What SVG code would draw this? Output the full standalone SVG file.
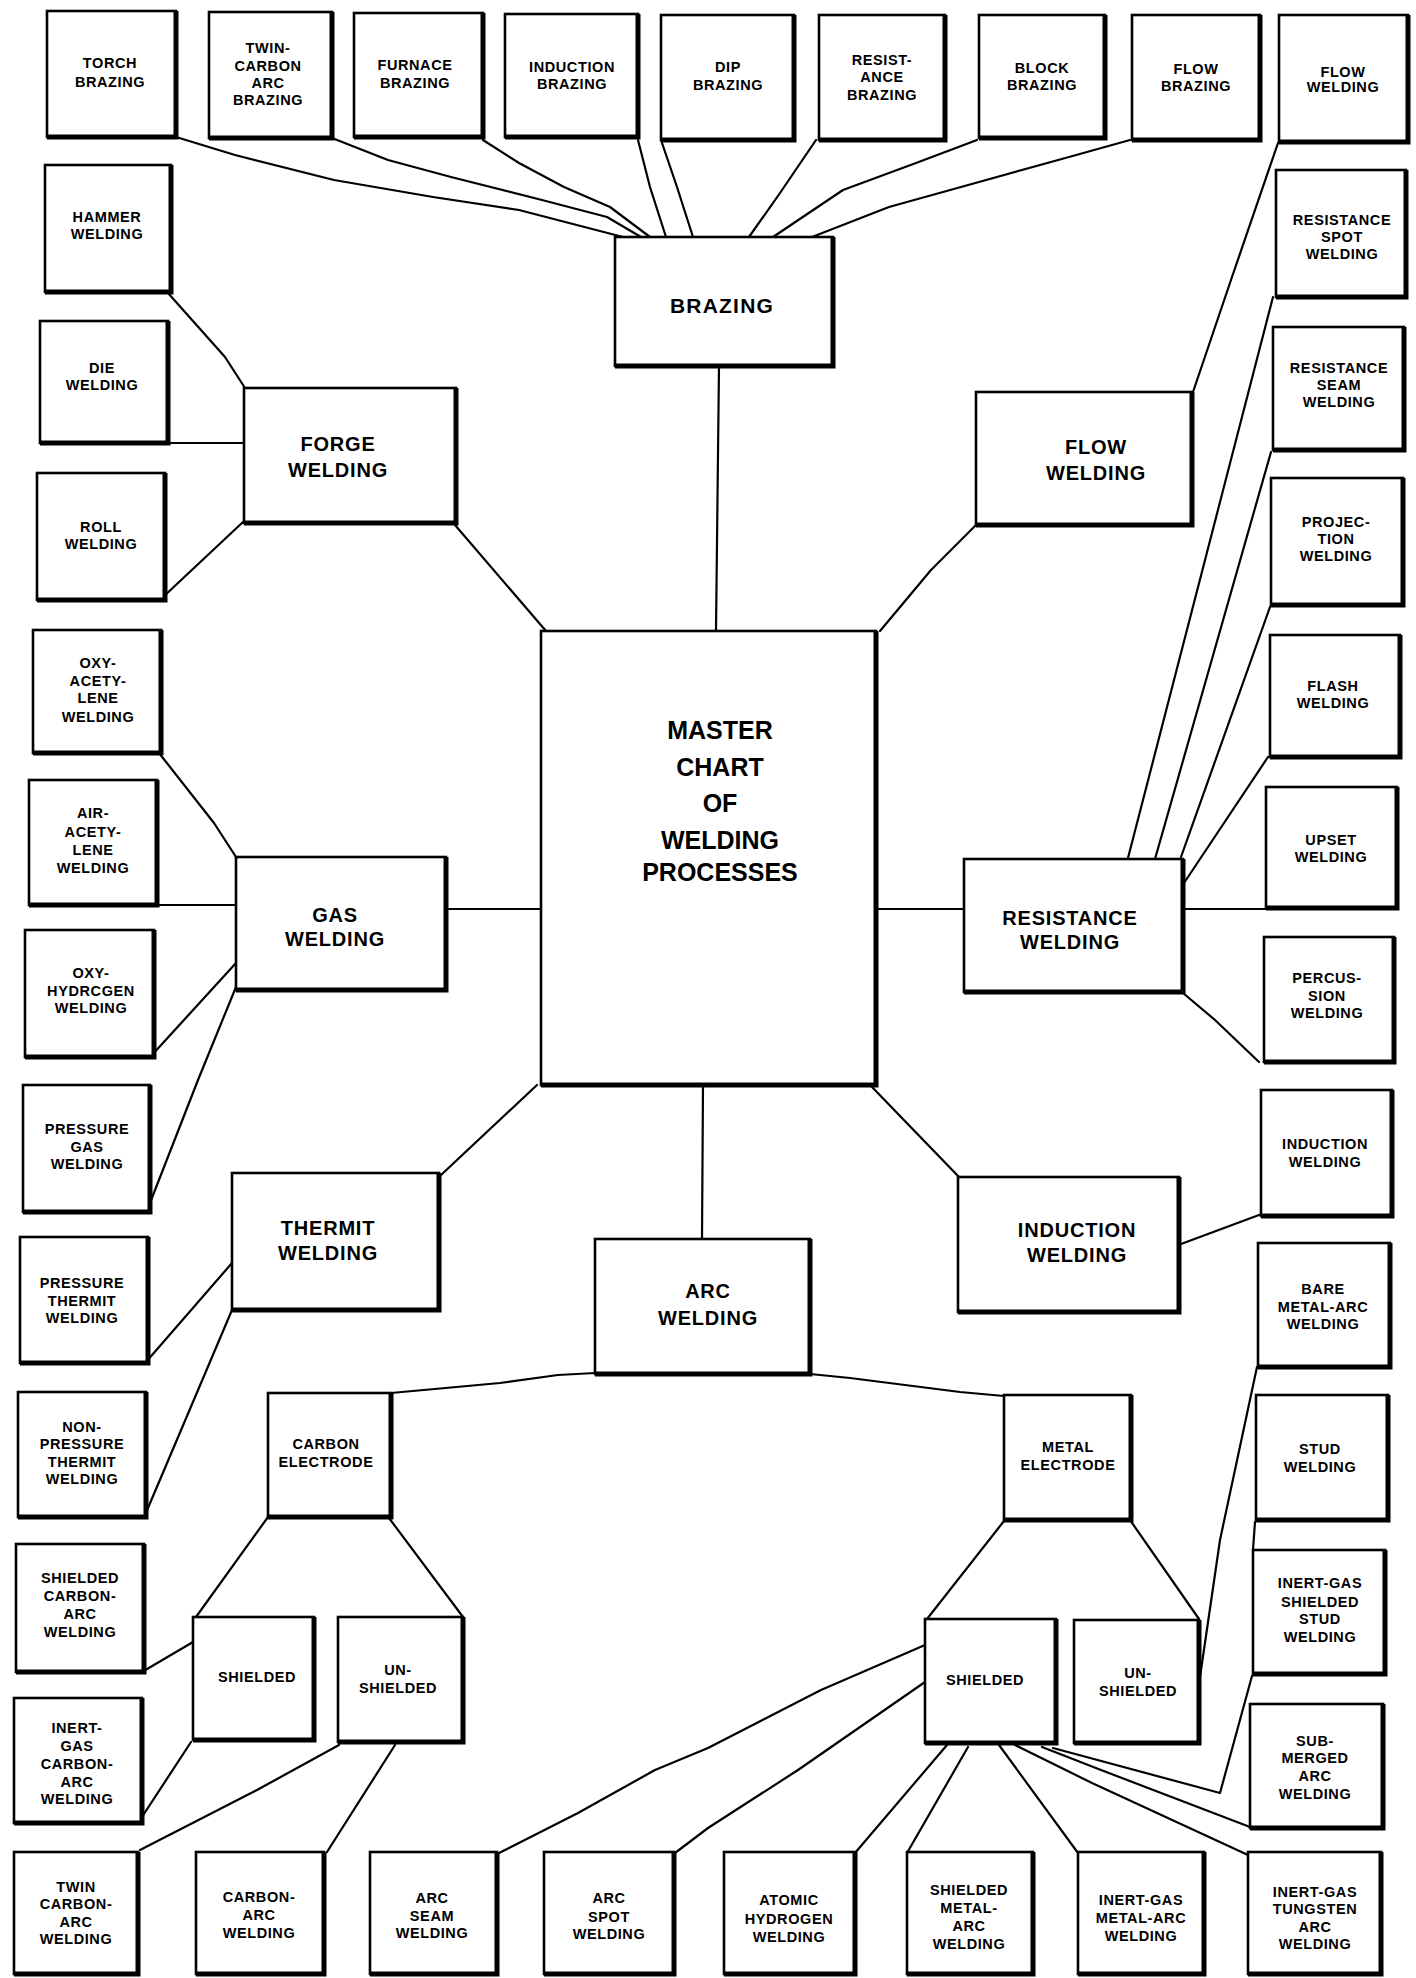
<svg xmlns="http://www.w3.org/2000/svg" width="1416" height="1978" viewBox="0 0 1416 1978">
<style>
rect{fill:#fff;stroke:#000;stroke-width:2.6}
.sh{fill:none;stroke:#000;stroke-width:5;stroke-linejoin:miter}
.c polyline,.c line{fill:none;stroke:#000;stroke-width:2.2;stroke-linejoin:round;stroke-linecap:round}
text{font-family:"Liberation Sans",Arial,sans-serif;font-weight:bold;text-anchor:middle;fill:#000}
.t{font-size:14.5px;letter-spacing:0.6px}
.tm{font-size:20px;letter-spacing:0.8px}
.tz{font-size:21px;letter-spacing:1.2px}
.tb{font-size:25px;font-weight:bold}
</style>
<rect x="0" y="0" width="1416" height="1978" style="stroke:none"/>
<g class="c" id="connectors">
<polyline points="176,137 235,155 334,180 433,197 519,210 623,237"/>
<polyline points="332,138 388,160 451,177 542,200 607,217 641,237"/>
<polyline points="483,140 519,163 564,187 610,207 650,237"/>
<polyline points="638,140 650,187 666,237"/>
<polyline points="661,140 677,187 693,237"/>
<polyline points="816,140 780,193 749,237"/>
<polyline points="977,140 916,163 843,190 773,237"/>
<polyline points="1130,140 1069,157 961,187 889,207 812,237"/>
<polyline points="719,366 716,631"/>
<polyline points="1278,143 1232,277 1193,392"/>
<polyline points="976,525 931,570 880,631"/>
<polyline points="168,293 225,357 245,388"/>
<polyline points="166,443 244,443"/>
<polyline points="162,598 243,522"/>
<polyline points="455,525 546,631"/>
<polyline points="159,753 214,823 236,857"/>
<polyline points="157,905 236,905"/>
<polyline points="152,1055 236,963"/>
<polyline points="148,1208 198,1080 236,987"/>
<polyline points="446,909 541,909"/>
<polyline points="876,909 964,909"/>
<polyline points="1273,297 1128,858"/>
<polyline points="1271,452 1155,859"/>
<polyline points="1270,607 1181,857"/>
<polyline points="1268,757 1184,883"/>
<polyline points="1184,909 1266,909"/>
<polyline points="1183,993 1215,1020 1259,1062"/>
<polyline points="872,1087 959,1177"/>
<polyline points="1181,1244 1259,1215"/>
<polyline points="537,1085 441,1175"/>
<polyline points="146,1362 232,1263"/>
<polyline points="145,1515 232,1310"/>
<polyline points="703,1085 702,1239"/>
<polyline points="595,1373 558,1375 500,1383 391,1393"/>
<polyline points="810,1374 850,1378 960,1392 1004,1396"/>
<polyline points="268,1517 196,1617"/>
<polyline points="389,1518 463,1617"/>
<polyline points="142,1672 193,1642"/>
<polyline points="140,1820 191,1742"/>
<polyline points="140,1850 257,1790 339,1745"/>
<polyline points="327,1852 395,1745"/>
<polyline points="499,1853 578,1813 655,1770 708,1748 821,1690 925,1645"/>
<polyline points="675,1853 708,1828 798,1770 925,1682"/>
<polyline points="1004,1521 927,1619"/>
<polyline points="1130,1520 1199,1619"/>
<polyline points="1257,1367 1220,1540 1200,1677"/>
<polyline points="1255,1522 1253,1550"/>
<polyline points="1252,1676 1220,1793 1053,1748"/>
<polyline points="1042,1747 1101,1770 1250,1827"/>
<polyline points="1015,1745 1092,1783 1248,1855"/>
<polyline points="999,1745 1078,1853"/>
<polyline points="968,1747 907,1853"/>
<polyline points="947,1745 855,1853"/>
</g>
<g id="n-torch"><rect x="47" y="11" width="129" height="126"/><path class="sh" d="M176,11V137H47"/><text class="t"><tspan x="110" y="68">TORCH</tspan><tspan x="110" y="87">BRAZING</tspan></text></g>
<g id="n-twin-carbon-arc-brazing"><rect x="209" y="12" width="123" height="126"/><path class="sh" d="M332,12V138H209"/><text class="t"><tspan x="268" y="53">TWIN-</tspan><tspan x="268" y="71">CARBON</tspan><tspan x="268" y="88">ARC</tspan><tspan x="268" y="105">BRAZING</tspan></text></g>
<g id="n-furnace"><rect x="354" y="13" width="129" height="124"/><path class="sh" d="M483,13V137H354"/><text class="t"><tspan x="415" y="70">FURNACE</tspan><tspan x="415" y="88">BRAZING</tspan></text></g>
<g id="n-induction-brazing"><rect x="505" y="14" width="133" height="123"/><path class="sh" d="M638,14V137H505"/><text class="t"><tspan x="572" y="72">INDUCTION</tspan><tspan x="572" y="89">BRAZING</tspan></text></g>
<g id="n-dip"><rect x="661" y="15" width="133" height="125"/><path class="sh" d="M794,15V140H661"/><text class="t"><tspan x="728" y="72">DIP</tspan><tspan x="728" y="90">BRAZING</tspan></text></g>
<g id="n-resistance-brazing"><rect x="819" y="15" width="126" height="125"/><path class="sh" d="M945,15V140H819"/><text class="t"><tspan x="882" y="65">RESIST-</tspan><tspan x="882" y="82">ANCE</tspan><tspan x="882" y="100">BRAZING</tspan></text></g>
<g id="n-block"><rect x="979" y="15" width="126" height="123"/><path class="sh" d="M1105,15V138H979"/><text class="t"><tspan x="1042" y="73">BLOCK</tspan><tspan x="1042" y="90">BRAZING</tspan></text></g>
<g id="n-flow-brazing"><rect x="1132" y="15" width="128" height="125"/><path class="sh" d="M1260,15V140H1132"/><text class="t"><tspan x="1196" y="74">FLOW</tspan><tspan x="1196" y="91">BRAZING</tspan></text></g>
<g id="n-flow-welding-leaf"><rect x="1279" y="15" width="129" height="127"/><path class="sh" d="M1408,15V142H1279"/><text class="t"><tspan x="1343" y="77">FLOW</tspan><tspan x="1343" y="92">WELDING</tspan></text></g>
<g id="n-hammer"><rect x="45" y="165" width="126" height="127"/><path class="sh" d="M171,165V292H45"/><text class="t"><tspan x="107" y="222">HAMMER</tspan><tspan x="107" y="239">WELDING</tspan></text></g>
<g id="n-die"><rect x="40" y="321" width="128" height="122"/><path class="sh" d="M168,321V443H40"/><text class="t"><tspan x="102" y="373">DIE</tspan><tspan x="102" y="390">WELDING</tspan></text></g>
<g id="n-roll"><rect x="37" y="473" width="128" height="127"/><path class="sh" d="M165,473V600H37"/><text class="t"><tspan x="101" y="532">ROLL</tspan><tspan x="101" y="549">WELDING</tspan></text></g>
<g id="n-oxy-acetylene"><rect x="33" y="630" width="128" height="123"/><path class="sh" d="M161,630V753H33"/><text class="t"><tspan x="98" y="668">OXY-</tspan><tspan x="98" y="686">ACETY-</tspan><tspan x="98" y="703">LENE</tspan><tspan x="98" y="722">WELDING</tspan></text></g>
<g id="n-air-acetylene"><rect x="29" y="780" width="128" height="125"/><path class="sh" d="M157,780V905H29"/><text class="t"><tspan x="93" y="818">AIR-</tspan><tspan x="93" y="837">ACETY-</tspan><tspan x="93" y="855">LENE</tspan><tspan x="93" y="873">WELDING</tspan></text></g>
<g id="n-oxy-hydrogen"><rect x="25" y="930" width="129" height="127"/><path class="sh" d="M154,930V1057H25"/><text class="t"><tspan x="91" y="978">OXY-</tspan><tspan x="91" y="996">HYDRCGEN</tspan><tspan x="91" y="1013">WELDING</tspan></text></g>
<g id="n-pressure-gas"><rect x="23" y="1085" width="127" height="127"/><path class="sh" d="M150,1085V1212H23"/><text class="t"><tspan x="87" y="1134">PRESSURE</tspan><tspan x="87" y="1152">GAS</tspan><tspan x="87" y="1169">WELDING</tspan></text></g>
<g id="n-pressure-thermit"><rect x="20" y="1237" width="128" height="126"/><path class="sh" d="M148,1237V1363H20"/><text class="t"><tspan x="82" y="1288">PRESSURE</tspan><tspan x="82" y="1306">THERMIT</tspan><tspan x="82" y="1323">WELDING</tspan></text></g>
<g id="n-nonpressure-thermit"><rect x="18" y="1392" width="128" height="125"/><path class="sh" d="M146,1392V1517H18"/><text class="t"><tspan x="82" y="1432">NON-</tspan><tspan x="82" y="1449">PRESSURE</tspan><tspan x="82" y="1467">THERMIT</tspan><tspan x="82" y="1484">WELDING</tspan></text></g>
<g id="n-shielded-carbon-arc"><rect x="16" y="1544" width="128" height="128"/><path class="sh" d="M144,1544V1672H16"/><text class="t"><tspan x="80" y="1583">SHIELDED</tspan><tspan x="80" y="1601">CARBON-</tspan><tspan x="80" y="1619">ARC</tspan><tspan x="80" y="1637">WELDING</tspan></text></g>
<g id="n-inert-gas-carbon-arc"><rect x="14" y="1698" width="128" height="125"/><path class="sh" d="M142,1698V1823H14"/><text class="t"><tspan x="77" y="1733">INERT-</tspan><tspan x="77" y="1751">GAS</tspan><tspan x="77" y="1769">CARBON-</tspan><tspan x="77" y="1787">ARC</tspan><tspan x="77" y="1804">WELDING</tspan></text></g>
<g id="n-twin-carbon-arc"><rect x="14" y="1852" width="124" height="122"/><path class="sh" d="M138,1852V1974H14"/><text class="t"><tspan x="76" y="1892">TWIN</tspan><tspan x="76" y="1909">CARBON-</tspan><tspan x="76" y="1927">ARC</tspan><tspan x="76" y="1944">WELDING</tspan></text></g>
<g id="n-carbon-arc"><rect x="196" y="1852" width="128" height="122"/><path class="sh" d="M324,1852V1974H196"/><text class="t"><tspan x="259" y="1902">CARBON-</tspan><tspan x="259" y="1920">ARC</tspan><tspan x="259" y="1938">WELDING</tspan></text></g>
<g id="n-arc-seam"><rect x="370" y="1852" width="127" height="122"/><path class="sh" d="M497,1852V1974H370"/><text class="t"><tspan x="432" y="1903">ARC</tspan><tspan x="432" y="1921">SEAM</tspan><tspan x="432" y="1938">WELDING</tspan></text></g>
<g id="n-arc-spot"><rect x="544" y="1852" width="130" height="122"/><path class="sh" d="M674,1852V1974H544"/><text class="t"><tspan x="609" y="1903">ARC</tspan><tspan x="609" y="1922">SPOT</tspan><tspan x="609" y="1939">WELDING</tspan></text></g>
<g id="n-atomic-hydrogen"><rect x="724" y="1852" width="131" height="122"/><path class="sh" d="M855,1852V1974H724"/><text class="t"><tspan x="789" y="1905">ATOMIC</tspan><tspan x="789" y="1924">HYDROGEN</tspan><tspan x="789" y="1942">WELDING</tspan></text></g>
<g id="n-shielded-metal-arc"><rect x="907" y="1852" width="126" height="122"/><path class="sh" d="M1033,1852V1974H907"/><text class="t"><tspan x="969" y="1895">SHIELDED</tspan><tspan x="969" y="1913">METAL-</tspan><tspan x="969" y="1931">ARC</tspan><tspan x="969" y="1949">WELDING</tspan></text></g>
<g id="n-inert-gas-metal-arc"><rect x="1078" y="1852" width="126" height="122"/><path class="sh" d="M1204,1852V1974H1078"/><text class="t"><tspan x="1141" y="1905">INERT-GAS</tspan><tspan x="1141" y="1923">METAL-ARC</tspan><tspan x="1141" y="1941">WELDING</tspan></text></g>
<g id="n-inert-gas-tungsten"><rect x="1248" y="1852" width="133" height="122"/><path class="sh" d="M1381,1852V1974H1248"/><text class="t"><tspan x="1315" y="1897">INERT-GAS</tspan><tspan x="1315" y="1914">TUNGSTEN</tspan><tspan x="1315" y="1932">ARC</tspan><tspan x="1315" y="1949">WELDING</tspan></text></g>
<g id="n-resistance-spot"><rect x="1276" y="170" width="130" height="127"/><path class="sh" d="M1406,170V297H1276"/><text class="t"><tspan x="1342" y="225">RESISTANCE</tspan><tspan x="1342" y="242">SPOT</tspan><tspan x="1342" y="259">WELDING</tspan></text></g>
<g id="n-resistance-seam"><rect x="1273" y="327" width="131" height="123"/><path class="sh" d="M1404,327V450H1273"/><text class="t"><tspan x="1339" y="373">RESISTANCE</tspan><tspan x="1339" y="390">SEAM</tspan><tspan x="1339" y="407">WELDING</tspan></text></g>
<g id="n-projection"><rect x="1271" y="478" width="132" height="127"/><path class="sh" d="M1403,478V605H1271"/><text class="t"><tspan x="1336" y="527">PROJEC-</tspan><tspan x="1336" y="544">TION</tspan><tspan x="1336" y="561">WELDING</tspan></text></g>
<g id="n-flash"><rect x="1270" y="635" width="130" height="122"/><path class="sh" d="M1400,635V757H1270"/><text class="t"><tspan x="1333" y="691">FLASH</tspan><tspan x="1333" y="708">WELDING</tspan></text></g>
<g id="n-upset"><rect x="1266" y="787" width="131" height="121"/><path class="sh" d="M1397,787V908H1266"/><text class="t"><tspan x="1331" y="845">UPSET</tspan><tspan x="1331" y="862">WELDING</tspan></text></g>
<g id="n-percussion"><rect x="1264" y="937" width="130" height="125"/><path class="sh" d="M1394,937V1062H1264"/><text class="t"><tspan x="1327" y="983">PERCUS-</tspan><tspan x="1327" y="1001">SION</tspan><tspan x="1327" y="1018">WELDING</tspan></text></g>
<g id="n-induction-welding-leaf"><rect x="1261" y="1090" width="131" height="126"/><path class="sh" d="M1392,1090V1216H1261"/><text class="t"><tspan x="1325" y="1149">INDUCTION</tspan><tspan x="1325" y="1167">WELDING</tspan></text></g>
<g id="n-bare-metal-arc"><rect x="1258" y="1243" width="132" height="124"/><path class="sh" d="M1390,1243V1367H1258"/><text class="t"><tspan x="1323" y="1294">BARE</tspan><tspan x="1323" y="1312">METAL-ARC</tspan><tspan x="1323" y="1329">WELDING</tspan></text></g>
<g id="n-stud"><rect x="1256" y="1395" width="132" height="125"/><path class="sh" d="M1388,1395V1520H1256"/><text class="t"><tspan x="1320" y="1454">STUD</tspan><tspan x="1320" y="1472">WELDING</tspan></text></g>
<g id="n-inert-gas-shielded-stud"><rect x="1253" y="1550" width="132" height="124"/><path class="sh" d="M1385,1550V1674H1253"/><text class="t"><tspan x="1320" y="1588">INERT-GAS</tspan><tspan x="1320" y="1607">SHIELDED</tspan><tspan x="1320" y="1624">STUD</tspan><tspan x="1320" y="1642">WELDING</tspan></text></g>
<g id="n-submerged-arc"><rect x="1250" y="1704" width="133" height="124"/><path class="sh" d="M1383,1704V1828H1250"/><text class="t"><tspan x="1315" y="1746">SUB-</tspan><tspan x="1315" y="1763">MERGED</tspan><tspan x="1315" y="1781">ARC</tspan><tspan x="1315" y="1799">WELDING</tspan></text></g>
<g id="n-brazing"><rect x="615" y="237" width="218" height="129"/><path class="sh" d="M833,237V366H615"/><text class="tz"><tspan x="722" y="313">BRAZING</tspan></text></g>
<g id="n-forge"><rect x="244" y="388" width="212" height="135"/><path class="sh" d="M456,388V523H244"/><text class="tm"><tspan x="338" y="451">FORGE</tspan><tspan x="338" y="477">WELDING</tspan></text></g>
<g id="n-flow-welding"><rect x="976" y="392" width="216" height="133"/><path class="sh" d="M1192,392V525H976"/><text class="tm"><tspan x="1096" y="454">FLOW</tspan><tspan x="1096" y="480">WELDING</tspan></text></g>
<g id="n-gas"><rect x="236" y="857" width="210" height="133"/><path class="sh" d="M446,857V990H236"/><text class="tm"><tspan x="335" y="922">GAS</tspan><tspan x="335" y="946">WELDING</tspan></text></g>
<g id="n-resistance"><rect x="964" y="859" width="219" height="133"/><path class="sh" d="M1183,859V992H964"/><text class="tm"><tspan x="1070" y="925">RESISTANCE</tspan><tspan x="1070" y="949">WELDING</tspan></text></g>
<g id="n-master"><rect x="541" y="631" width="335" height="454"/><path class="sh" d="M876,631V1085H541"/><text class="tb"><tspan x="720" y="739">MASTER</tspan><tspan x="720" y="776">CHART</tspan><tspan x="720" y="812">OF</tspan><tspan x="720" y="849">WELDING</tspan><tspan x="720" y="881">PROCESSES</tspan></text></g>
<g id="n-thermit"><rect x="232" y="1173" width="207" height="137"/><path class="sh" d="M439,1173V1310H232"/><text class="tm"><tspan x="328" y="1235">THERMIT</tspan><tspan x="328" y="1260">WELDING</tspan></text></g>
<g id="n-induction"><rect x="958" y="1177" width="221" height="135"/><path class="sh" d="M1179,1177V1312H958"/><text class="tm"><tspan x="1077" y="1237">INDUCTION</tspan><tspan x="1077" y="1262">WELDING</tspan></text></g>
<g id="n-arc"><rect x="595" y="1239" width="215" height="135"/><path class="sh" d="M810,1239V1374H595"/><text class="tm"><tspan x="708" y="1298">ARC</tspan><tspan x="708" y="1325">WELDING</tspan></text></g>
<g id="n-carbon-electrode"><rect x="268" y="1393" width="123" height="124"/><path class="sh" d="M391,1393V1517H268"/><text class="t"><tspan x="326" y="1449">CARBON</tspan><tspan x="326" y="1467">ELECTRODE</tspan></text></g>
<g id="n-metal-electrode"><rect x="1004" y="1395" width="127" height="125"/><path class="sh" d="M1131,1395V1520H1004"/><text class="t"><tspan x="1068" y="1452">METAL</tspan><tspan x="1068" y="1470">ELECTRODE</tspan></text></g>
<g id="n-carbon-shielded"><rect x="193" y="1617" width="121" height="123"/><path class="sh" d="M314,1617V1740H193"/><text class="t"><tspan x="257" y="1682">SHIELDED</tspan></text></g>
<g id="n-carbon-unshielded"><rect x="338" y="1617" width="125" height="125"/><path class="sh" d="M463,1617V1742H338"/><text class="t"><tspan x="398" y="1675">UN-</tspan><tspan x="398" y="1693">SHIELDED</tspan></text></g>
<g id="n-metal-shielded"><rect x="925" y="1619" width="131" height="124"/><path class="sh" d="M1056,1619V1743H925"/><text class="t"><tspan x="985" y="1685">SHIELDED</tspan></text></g>
<g id="n-metal-unshielded"><rect x="1074" y="1620" width="125" height="123"/><path class="sh" d="M1199,1620V1743H1074"/><text class="t"><tspan x="1138" y="1678">UN-</tspan><tspan x="1138" y="1696">SHIELDED</tspan></text></g>
</svg>
